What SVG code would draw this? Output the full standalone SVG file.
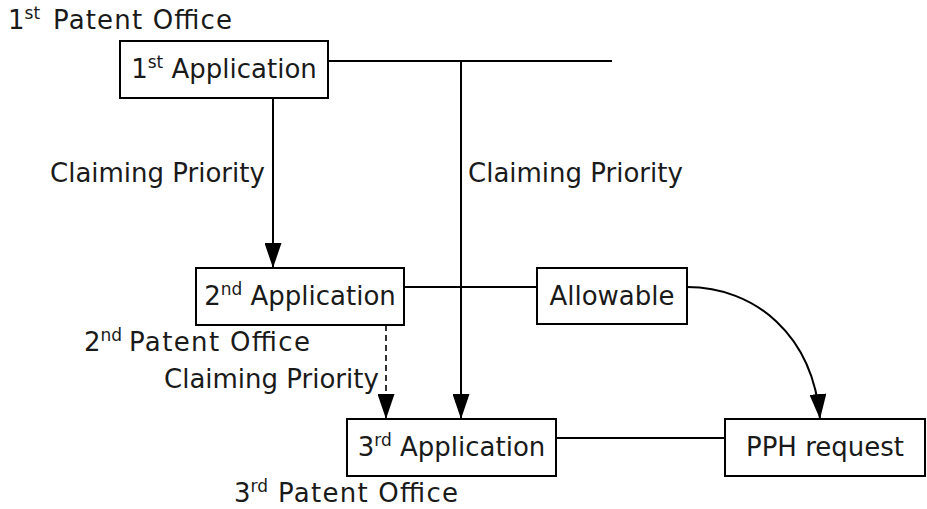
<svg xmlns="http://www.w3.org/2000/svg" width="927" height="509" viewBox="0 0 927 509">
<style>
text{font-family:"DejaVu Sans","Liberation Sans",sans-serif;font-size:26px;fill:#1a1a1a}
.c{text-anchor:middle}
.box{fill:#fff;stroke:#000;stroke-width:2}
.ln{fill:none;stroke:#000;stroke-width:2}
.ds{fill:none;stroke:#000;stroke-width:1.6;stroke-dasharray:6 4}
</style>
<defs>
<marker id="ah" markerUnits="userSpaceOnUse" markerWidth="25" markerHeight="17" viewBox="0 0 25 17" refX="25" refY="8.5" orient="auto">
<path d="M0,0 L25,8.5 L0,17 z" fill="#000"/>
</marker>
</defs>
<g id="connectors">
<line class="ln" x1="328" y1="61" x2="612" y2="61"/>
<line class="ln" x1="273" y1="98" x2="273" y2="268" marker-end="url(#ah)"/>
<line class="ln" x1="461" y1="61" x2="461" y2="419" marker-end="url(#ah)"/>
<line class="ds" x1="386" y1="325" x2="386" y2="419" marker-end="url(#ah)"/>
<line class="ln" x1="404" y1="287" x2="537" y2="287"/>
<line class="ln" x1="556" y1="438" x2="725" y2="438"/>
<path class="ln" d="M687,287 C755,287 813,335 820,419" marker-end="url(#ah)"/>
<text x="50" y="182">Claiming Priority</text>
<text x="468" y="182">Claiming Priority</text>
<text x="164" y="388">Claiming Priority</text>
</g>
<g id="office1"><text x="8" y="29">1<tspan font-size="17" dy="-10">st</tspan></text><text x="53" y="29" textLength="179">Patent Office</text></g>
<g id="office2"><text x="84" y="351">2<tspan font-size="17" dy="-10">nd</tspan></text><text x="129" y="351" textLength="181">Patent Office</text></g>
<g id="office3"><text x="234" y="502">3<tspan font-size="17" dy="-10">rd</tspan></text><text x="278" y="502" textLength="180">Patent Office</text></g>
<g id="app1"><rect class="box" x="120" y="41" width="208" height="57"/><text class="c" x="224" y="78">1<tspan font-size="17" dy="-10">st</tspan><tspan dy="10"> Application</tspan></text></g>
<g id="app2"><rect class="box" x="196" y="268" width="208" height="57"/><text class="c" x="300" y="305">2<tspan font-size="17" dy="-10">nd</tspan><tspan dy="10"> Application</tspan></text></g>
<g id="allowable"><rect class="box" x="537" y="268" width="150" height="56"/><text class="c" x="612" y="305">Allowable</text></g>
<g id="app3"><rect class="box" x="347" y="419" width="209" height="57"/><text class="c" x="451.5" y="456">3<tspan font-size="17" dy="-10">rd</tspan><tspan dy="10"> Application</tspan></text></g>
<g id="pph"><rect class="box" x="725" y="419" width="200" height="57"/><text class="c" x="825" y="456">PPH request</text></g>
</svg>
